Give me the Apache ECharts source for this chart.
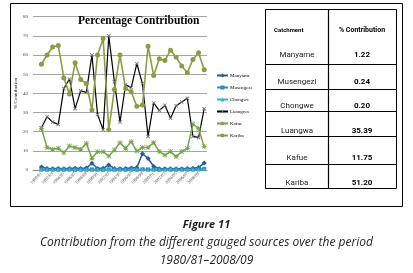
<!DOCTYPE html>
<html>
<head>
<meta charset="utf-8">
<script src="https://cdn.jsdelivr.net/npm/echarts@6/dist/echarts.min.js"></script>
<style>
  html, body { margin: 0; padding: 0; background: #fff; }
  #main { width: 413px; height: 273px; }
</style>
</head>
<body>
<div id="main"></div>
<script>
// years on the category axis
var years = ['1980/81', '1981/82', '1982/83', '1983/84', '1984/85', '1985/86', '1986/87', '1987/88',
  '1988/89', '1989/90', '1990/91', '1991/92', '1992/93', '1993/94', '1994/95', '1995/96',
  '1996/97', '1997/98', '1998/99', '1999/00', '2000/01', '2001/02', '2002/03', '2003/04',
  '2004/05', '2005/06', '2006/07', '2007/08', '2008/09', '2009/10'];

// % contribution per catchment
var manyame = [1.6, 0.8, 0.7, 0.8, 0.7, 0.8, 0.9, 0.8, 1.0, 3.5, 0.8, 0.9, 2.6, 0.8, 0.7,
  0.8, 1.0, 1.3, 8.5, 6.0, 1.8, 0.7, 0.6, 0.6, 0.6, 0.7, 0.8, 0.9, 1.3, 3.6];
var musengezi = [0.3, 0.2, 0.3, 0.2, 0.2, 0.3, 0.2, 0.3, 0.2, 0.3, 0.2, 0.2, 0.3, 0.2, 0.3,
  0.2, 0.3, 0.2, 0.4, 0.3, 0.2, 0.2, 0.3, 0.2, 0.2, 0.3, 0.3, 0.4, 0.5, 0.6];
var chongwe = [0.2, 0.2, 0.1, 0.2, 0.2, 0.2, 0.1, 0.2, 0.2, 0.2, 0.2, 0.1, 0.2, 0.2, 0.2,
  0.1, 0.2, 0.2, 0.3, 0.2, 0.2, 0.1, 0.2, 0.2, 0.2, 0.2, 0.2, 0.3, 0.3, 0.4];
var luangwa = [22, 27.8, 25, 23.8, 42.5, 47.5, 32, 41.3, 40.5, 60, 29, 21, 70, 46, 25,
  44.5, 43, 55.5, 45, 17.5, 35, 31, 33.8, 27, 33.5, 35.5, 37.5, 17.5, 17, 32];
var kafue = [21.7, 11.8, 10.8, 11.3, 9, 12.5, 11.8, 10.8, 13.9, 6.1, 9.5, 9.5, 7.3, 10.4, 14.2,
  11.3, 14.8, 9.9, 11.8, 11.8, 14.3, 9.6, 7.8, 9.6, 7, 9.6, 11.3, 24, 21.7, 12.2];
var kariba = [55.2, 60, 64.2, 65, 48, 39.6, 56, 47.2, 45.1, 31.3, 60, 68.6, 21, 42, 60,
  42.5, 40.8, 33.3, 33.9, 64.6, 49.3, 58, 57.2, 62.5, 58.8, 54.3, 50.8, 57.7, 61.2, 52.3];

// table on the right
var catchments = ['Manyame', 'Musengezi', 'Chongwe', 'Luangwa', 'Kafue', 'Kariba'];
var contribution = ['1.22', '0.24', '0.20', '35.39', '11.75', '51.20'];

var X_MARK = 'path://M0,1.5L1.5,0L10,8.5L8.5,10Z M8.5,0L10,1.5L1.5,10L0,8.5Z';
var STAR = 'path://M4.3,0H5.7V10H4.3Z M0,4.3H10V5.7H0Z M1,0L10,9L9,10L0,1Z M9,0L10,1L1,10L0,9Z';

// the category axis starts with one empty slot, as in the original
function pad(arr) { return [null].concat(arr); }

function line(name, data, color, symbol, size, width, markColor) {
  return {
    name: name,
    type: 'line',
    data: pad(data),
    symbol: symbol,
    symbolSize: size,
    showAllSymbol: true,
    lineStyle: { color: color, width: width },
    itemStyle: { color: markColor || color },
    animation: false
  };
}

var serif = 'Liberation Serif';
var tableFont = 'Roboto';
var capFont = '"Open Sans"';
var rowY = [55, 82, 106, 131, 158, 183];
var lineY = [64, 89, 111, 136, 164];

var graphics = [
  { type: 'rect', shape: { x: 10.5, y: 3.5, width: 392, height: 203 },
    style: { fill: 'none', stroke: '#000', lineWidth: 1 } },
  { type: 'rect', shape: { x: 265.5, y: 9.5, width: 131, height: 179 },
    style: { fill: 'none', stroke: '#000', lineWidth: 1 } },
  { type: 'line', shape: { x1: 328.5, y1: 9.5, x2: 328.5, y2: 188.5 },
    style: { stroke: '#000', lineWidth: 1.2 } },
  { type: 'text', x: 274, y: 30, style: { text: 'Catchment', font: 'bold 6px ' + tableFont,
    fill: '#000', verticalAlign: 'middle' } },
  { type: 'text', x: 362, y: 30, style: { text: '% Contribution', font: 'bold 7px ' + tableFont,
    fill: '#000', align: 'center', verticalAlign: 'middle' } },
  { type: 'text', x: 206.5, y: 225, style: { text: 'Figure 11', font: 'italic bold 11px ' + capFont,
    fill: '#231f20', align: 'center', verticalAlign: 'middle' } },
  { type: 'text', x: 206.5, y: 243, style: { text: 'Contribution from the different gauged sources over the period',
    font: 'italic 12px ' + capFont, fill: '#231f20', align: 'center', verticalAlign: 'middle' } },
  { type: 'text', x: 206.5, y: 261, style: { text: '1980/81\u20132008/09', font: 'italic 12px ' + capFont,
    fill: '#231f20', align: 'center', verticalAlign: 'middle' } }
];
lineY.forEach(function (y) {
  graphics.push({ type: 'line', shape: { x1: 265.5, y1: y + 0.5, x2: 396.5, y2: y + 0.5 },
    style: { stroke: '#000', lineWidth: 1 } });
});
catchments.forEach(function (c, i) {
  graphics.push({ type: 'text', x: 297, y: rowY[i], style: { text: c, font: '8px ' + tableFont,
    fill: '#222', align: 'center', verticalAlign: 'middle' } });
  graphics.push({ type: 'text', x: 362, y: rowY[i], style: { text: contribution[i], font: 'bold 8px ' + tableFont,
    fill: '#000', align: 'center', verticalAlign: 'middle' } });
});

var chart = echarts.init(document.getElementById('main'), null, { renderer: 'canvas' });
chart.setOption({
  backgroundColor: '#fff',
  animation: false,
  title: {
    text: 'Percentage Contribution',
    left: 78, top: 15, padding: 0,
    textStyle: { fontFamily: serif, fontWeight: 'bold', fontSize: 11.5, color: '#000' }
  },
  legend: {
    orient: 'vertical',
    left: 216, top: 73,
    itemWidth: 11, itemHeight: 5, itemGap: 7,
    padding: 0,
    data: catchments,
    textStyle: { fontFamily: serif, fontSize: 5, color: '#000', padding: [0, 0, 0, -3] }
  },
  grid: { left: 33, right: 206, top: 16.7, bottom: 103, containLabel: false },
  xAxis: {
    type: 'category',
    data: [''].concat(years),
    boundaryGap: true,
    axisLine: { show: true, lineStyle: { color: '#888', width: 1 } },
    axisTick: { show: false },
    axisLabel: {
      rotate: 45, fontSize: 4.5, fontFamily: serif, color: '#555', margin: 3,
      interval: function (i) { return i % 2 === 1; }
    }
  },
  yAxis: {
    type: 'value',
    min: 0, max: 80, interval: 10,
    name: '% Contribution',
    nameLocation: 'middle',
    nameGap: 15,
    nameTextStyle: { fontFamily: serif, fontSize: 5, color: '#000' },
    axisLine: { show: false },
    axisTick: { show: false },
    axisLabel: { fontSize: 5, fontFamily: serif, color: '#444', margin: 5 },
    splitLine: { lineStyle: { color: '#a6a6a6', width: 1 } }
  },
  series: [
    line('Manyame', manyame, '#1f5c99', 'diamond', 5, 1.5),
    line('Musengezi', musengezi, '#2a8bbf', 'rect', 4, 1.5),
    line('Chongwe', chongwe, '#36b5c6', 'triangle', 4, 1.5),
    line('Luangwa', luangwa, '#000', X_MARK, 4, 1.2, '#777'),
    line('Kafue', kafue, '#74a54b', STAR, 5, 1.5),
    line('Kariba', kariba, '#8d9b42', 'circle', 5, 1.6)
  ],
  graphic: graphics
});
</script>
</body>
</html>
